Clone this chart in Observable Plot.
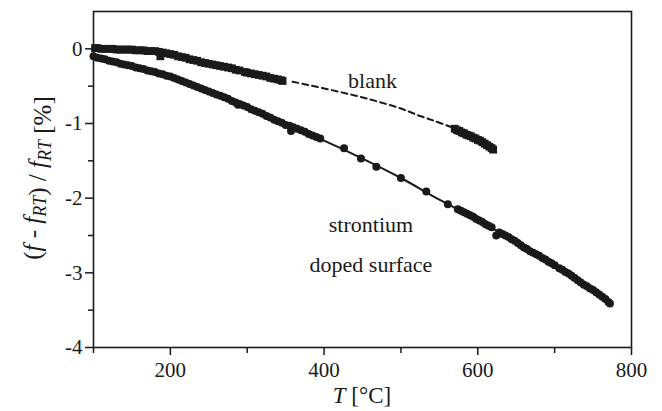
<!DOCTYPE html>
<html>
<head>
<meta charset="utf-8">
<script src="https://cdn.jsdelivr.net/npm/d3@7"></script>
<script src="https://cdn.jsdelivr.net/npm/@observablehq/plot@0.6"></script>
<style>
  body { margin: 0; background: #fff; }
  #chart svg { display: block; }
  #chart svg, #chart svg text {
    font-family: "Liberation Serif", "Tinos", "Noto Serif", "DejaVu Serif", "Times New Roman", Times, serif !important;
  }
</style>
</head>
<body>
<div id="chart"></div>
<script>
// Blank sample: measured points (°C, %)
const blankT = [102,105,110,115,120,125,130,135,140,145,150,155,160,165,170,175,180,185,187,190,195,200,205,210,215,220,225,230,235,240,245,250,255,260,265,270,275,280,285,290,
  297,300,305,310,315,320,325,330,335,340,344,346,
  570,573,576,579,582,585,588,591,594,597,600,603,606,609,612,615,618,620];
const blankY = [0.01,0.01,0.00,0.00,0.00,0.00,-0.01,-0.01,-0.01,-0.01,-0.01,-0.02,-0.02,-0.02,-0.03,-0.03,-0.03,-0.04,-0.10,-0.05,-0.06,-0.07,-0.08,-0.10,-0.11,-0.12,-0.14,-0.15,-0.16,-0.18,-0.19,-0.20,-0.21,-0.22,-0.23,-0.24,-0.25,-0.26,-0.28,-0.29,
  -0.31,-0.32,-0.33,-0.34,-0.35,-0.36,-0.37,-0.39,-0.40,-0.41,-0.42,-0.43,
  -1.07,-1.09,-1.10,-1.12,-1.13,-1.15,-1.16,-1.17,-1.19,-1.20,-1.22,-1.23,-1.25,-1.27,-1.29,-1.31,-1.33,-1.35];

// Blank sample: dashed guide across the unmeasured range
const blankGuideT = [359,413,457,500,525,545,566];
const blankGuideY = [-0.44,-0.56,-0.67,-0.80,-0.90,-0.97,-1.05];

// Strontium doped surface: measured points (°C, %)
const srT = [100,105,110,115,120,125,130,135,140,145,150,155,160,165,170,175,180,185,190,195,200,205,210,215,220,225,230,235,240,245,250,255,260,265,270,275,280,285,288,290,295,
  300,305,310,315,320,325,330,335,340,345,350,355,357,360,365,370,375,380,385,390,395,
  426,448,468,500,533,561,
  574,578,582,586,590,594,598,602,606,610,614,618,624,628,632,636,640,644,648,652,656,660,664,668,672,676,680,684,688,692,696,700,706,710,714,718,722,726,730,734,738,742,746,750,754,758,762,766,770,772];
const srY = [-0.10,-0.12,-0.13,-0.14,-0.16,-0.17,-0.18,-0.20,-0.21,-0.22,-0.23,-0.25,-0.26,-0.27,-0.29,-0.30,-0.31,-0.33,-0.34,-0.36,-0.37,-0.39,-0.41,-0.43,-0.45,-0.47,-0.49,-0.51,-0.53,-0.55,-0.57,-0.59,-0.61,-0.63,-0.65,-0.67,-0.70,-0.72,-0.75,-0.74,-0.76,
  -0.78,-0.81,-0.83,-0.85,-0.87,-0.90,-0.92,-0.95,-0.97,-0.99,-1.02,-1.03,-1.10,-1.05,-1.07,-1.09,-1.11,-1.14,-1.16,-1.18,-1.20,
  -1.33,-1.47,-1.58,-1.73,-1.91,-2.08,
  -2.15,-2.17,-2.19,-2.21,-2.23,-2.25,-2.28,-2.30,-2.32,-2.35,-2.37,-2.39,-2.50,-2.46,-2.48,-2.50,-2.52,-2.55,-2.57,-2.60,-2.63,-2.66,-2.68,-2.71,-2.73,-2.75,-2.77,-2.80,-2.82,-2.85,-2.87,-2.90,-2.94,-2.96,-2.99,-3.01,-3.04,-3.07,-3.10,-3.13,-3.16,-3.18,-3.21,-3.23,-3.26,-3.29,-3.32,-3.35,-3.39,-3.41];

// Strontium doped surface: fitted curve
const fitT = [100,150,200,250,300,350,400,450,500,550,600,650,700,750,770];
const fitY = [-0.10,-0.23,-0.38,-0.57,-0.79,-1.01,-1.23,-1.47,-1.73,-2.02,-2.29,-2.59,-2.90,-3.23,-3.38];

// Axis ticks
const xMajor = [200, 400, 600, 800];
const xMinor = [100, 300, 500, 700];
const yMajor = [0, -1, -2, -3, -4];
const yMinor = [-0.5, -1.5, -2.5, -3.5];

const ink = "#1a1a1a";

const blank = blankT.map((t, i) => ({t, v: blankY[i]}));
const blankGuide = blankGuideT.map((t, i) => ({t, v: blankGuideY[i]}));
const sr = srT.map((t, i) => ({t, v: srY[i]}));
const fit = fitT.map((t, i) => ({t, v: fitY[i]}));

const plot = Plot.plot({
  width: 662,
  height: 411,
  marginLeft: 93,
  marginRight: 31,
  marginTop: 11,
  marginBottom: 64,
  style: {fontSize: "21px", color: ink, background: "#fff", overflow: "visible"},
  x: {domain: [100, 800], label: null},
  y: {domain: [-4, 0.5], label: null},
  marks: [
    Plot.axisX({ticks: xMajor, tickSize: 8, tickPadding: 7, tickFormat: d => String(d), strokeWidth: 1.5, label: null}),
    Plot.axisX({ticks: xMinor, tickSize: 6, tickFormat: () => "", strokeWidth: 1.5, label: null}),
    Plot.axisY({ticks: yMajor, tickSize: 8, tickPadding: 3, tickFormat: d => String(d), strokeWidth: 1.5, label: null}),
    Plot.axisY({ticks: yMinor, tickSize: 5, tickFormat: () => "", strokeWidth: 1.5, label: null}),
    Plot.frame({stroke: ink, strokeWidth: 1.6}),
    Plot.line(blankGuide, {x: "t", y: "v", stroke: ink, strokeWidth: 2, strokeDasharray: "6,4", curve: "catmull-rom"}),
    Plot.dot(blank, {x: "t", y: "v", symbol: "square", r: 4.4, fill: ink, stroke: null}),
    Plot.line(fit, {x: "t", y: "v", stroke: ink, strokeWidth: 2, curve: "catmull-rom"}),
    Plot.dot(sr, {x: "t", y: "v", r: 4, fill: ink, stroke: null}),
    Plot.text(["blank"], {x: 463, y: -0.43, fill: ink, fontSize: 22, textAnchor: "middle"}),
    Plot.text(["strontium"], {x: 461, y: -2.36, fill: ink, fontSize: 22, textAnchor: "middle"}),
    Plot.text(["doped surface"], {x: 461, y: -2.90, fill: ink, fontSize: 22, textAnchor: "middle"})
  ]
});

// Axis titles with italic symbols and subscripts
const svg = d3.select(plot);
const xt = svg.append("text")
  .attr("x", 362).attr("y", 403)
  .attr("text-anchor", "middle")
  .attr("fill", ink)
  .style("font-size", "23px");
xt.append("tspan").style("font-style", "italic").text("T");
xt.append("tspan").text(" [°C]");

const yt = svg.append("text")
  .attr("transform", "translate(41,178) rotate(-90)")
  .attr("text-anchor", "middle")
  .attr("fill", ink)
  .style("font-size", "25px");
const part = (s, italic) => yt.append("tspan").style("font-style", italic ? "italic" : "normal").text(s);
const sub = (s) => {
  yt.append("tspan").attr("dy", 5).style("font-style", "italic").style("font-size", "18px").text(s);
  yt.append("tspan").attr("dy", -5).text("");
};
part("(");
part("f", true);
part(" - ");
part("f", true);
sub("RT");
part(") / ");
part("f", true);
sub("RT");
part(" [%]");

document.getElementById("chart").append(plot);
</script>
</body>
</html>
